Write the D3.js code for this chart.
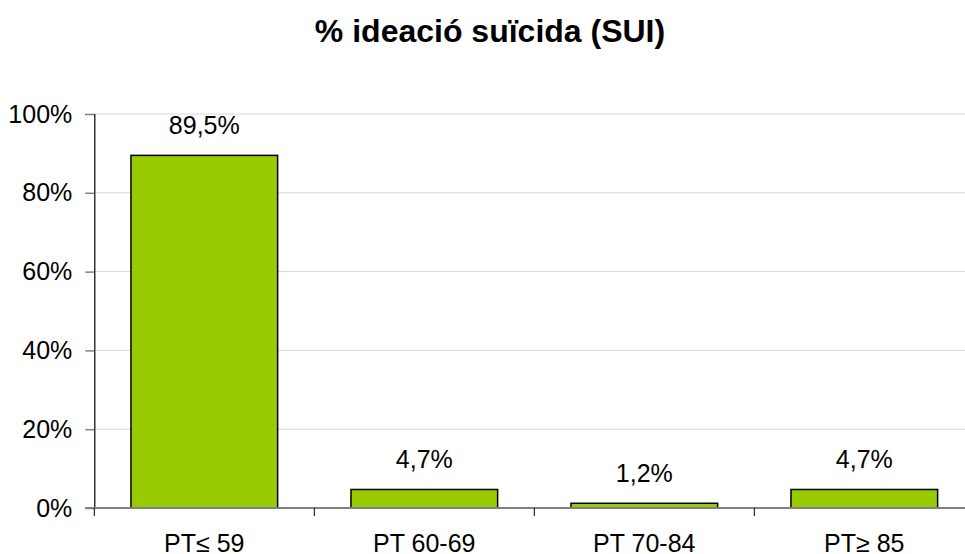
<!DOCTYPE html>
<html>
<head>
<meta charset="utf-8">
<script src="https://cdn.jsdelivr.net/npm/d3@7"></script>
<style>
  body { margin: 0; background: #fff; }
  svg text { font-family: "Liberation Sans", Arial, sans-serif; fill: #000; }
</style>
</head>
<body>
<div id="chart"></div>
<script>
'use strict'
// data
let categories = ["PT\u2264 59", "PT 60-69", "PT 70-84", "PT\u2265 85"]
let values = [89.5, 4.7, 1.2, 4.7]
let valueLabels = ["89,5%", "4,7%", "1,2%", "4,7%"]
let yTicks = [0, 20, 40, 60, 80, 100]

let w = 965, h = 554
let plot = {left: 94.3, top: 114, bottom: 508, band: 220}

let svg = d3.select('#chart').append('svg')
  .attr('width', w)
  .attr('height', h)

let x = d3.scaleBand()
  .domain(categories)
  .range([plot.left, plot.left + plot.band * categories.length])
  .paddingInner(1 / 3)
  .paddingOuter(1 / 6)

let y = d3.scaleLinear().domain([0, 100]).range([plot.bottom, plot.top])

// title
svg.append('text')
  .attr('x', 490)
  .attr('y', 42)
  .attr('text-anchor', 'middle')
  .style('font-size', '32px')
  .style('font-weight', 'bold')
  .text('% ideació suïcida (SUI)')

// gridlines
svg.append('g').selectAll('line')
  .data(yTicks.filter(d => d > 0))
  .enter().append('line')
  .attr('x1', plot.left)
  .attr('x2', w)
  .attr('y1', d => y(d))
  .attr('y2', d => y(d))
  .attr('stroke', '#d9d9d9')
  .attr('stroke-width', 1)

// y axis
let yAxis = svg.append('g')
  .attr('transform', 'translate(' + plot.left + ',0)')
  .call(d3.axisLeft(y).tickValues(yTicks).tickSize(9).tickPadding(13).tickFormat(d => d + '%'))
yAxis.select('.domain').attr('stroke', '#000').attr('stroke-width', 1.2)
yAxis.selectAll('.tick line').attr('stroke', '#808080').attr('stroke-width', 1.5)
yAxis.selectAll('.tick text')
  .style('font-size', '25px')
  .style('font-family', '"Liberation Sans", Arial, sans-serif')
  .attr('fill', '#000')

// bars
svg.append('g').selectAll('rect')
  .data(values)
  .enter().append('rect')
  .attr('x', (d, i) => x(categories[i]))
  .attr('width', x.bandwidth())
  .attr('y', d => y(d))
  .attr('height', d => y(0) - y(d))
  .attr('fill', '#99cc00')
  .attr('stroke', '#000')
  .attr('stroke-width', 1.5)

// value labels
svg.append('g').selectAll('text')
  .data(values)
  .enter().append('text')
  .attr('x', (d, i) => x(categories[i]) + x.bandwidth() / 2)
  .attr('y', d => y(d) - 21)
  .attr('text-anchor', 'middle')
  .style('font-size', '25px')
  .text((d, i) => valueLabels[i])

// x axis
let xOuter = d3.scaleLinear().domain([0, categories.length]).range([plot.left, plot.left + plot.band * categories.length])
svg.append('line')
  .attr('x1', plot.left - 9)
  .attr('x2', w)
  .attr('y1', y(0))
  .attr('y2', y(0))
  .attr('stroke', '#808080')
  .attr('stroke-width', 2)

svg.append('g').selectAll('line')
  .data(d3.range(categories.length + 1))
  .enter().append('line')
  .attr('x1', d => xOuter(d))
  .attr('x2', d => xOuter(d))
  .attr('y1', y(0))
  .attr('y2', y(0) + 8)
  .attr('stroke', '#000')
  .attr('stroke-width', 1)

svg.append('g').selectAll('text')
  .data(categories)
  .enter().append('text')
  .attr('x', d => x(d) + x.bandwidth() / 2)
  .attr('y', 552)
  .attr('text-anchor', 'middle')
  .style('font-size', '25px')
  .text(d => d)
</script>
</body>
</html>
